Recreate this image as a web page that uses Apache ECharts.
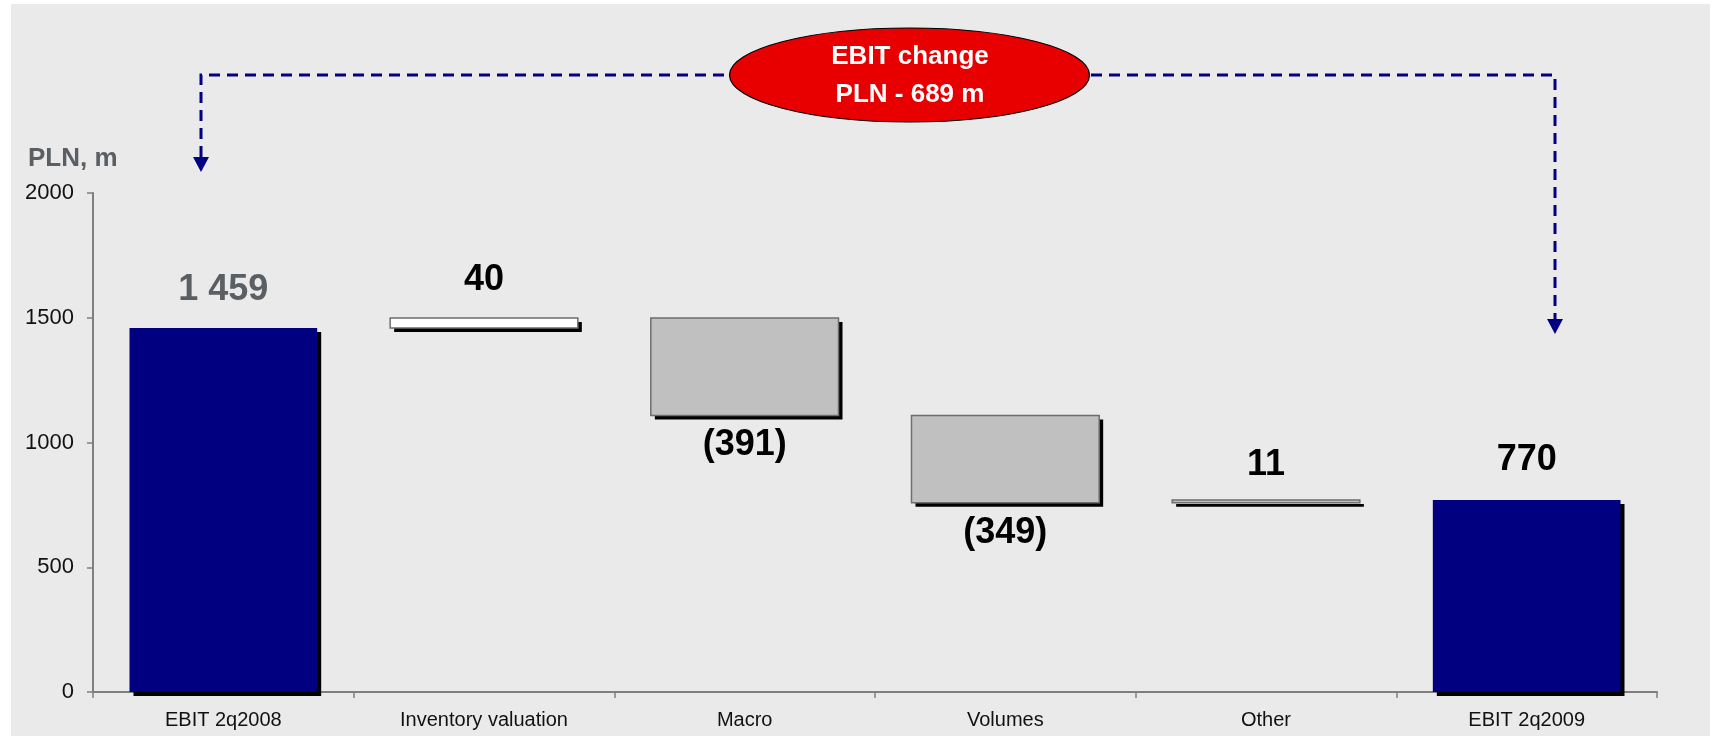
<!DOCTYPE html>
<html>
<head>
<meta charset="utf-8">
<script src="https://cdn.jsdelivr.net/npm/echarts@6/dist/echarts.min.js"></script>
<style>
  html, body { margin: 0; padding: 0; background: #fff; }
  #panel { position: absolute; left: 11px; top: 4px; width: 1699px; height: 732px; background: #eaeaea; }
  #chart { position: absolute; left: 0; top: 0; width: 1717px; height: 737px; }
</style>
</head>
<body>
<div id="panel"></div>
<div id="chart"></div>
<script>
// data
const categories = ['EBIT 2q2008', 'Inventory valuation', 'Macro', 'Volumes', 'Other', 'EBIT 2q2009'];
const changes = [1459, 40, -391, -349, 11, 770];
const isTotal = [true, false, false, false, false, true];
const yMin = 0, yMax = 2000, yStep = 500;

// styles per bar
const barFills = ['#000080', '#ffffff', '#c0c0c0', '#c0c0c0', '#c0c0c0', '#000080'];
const labelDist = [20, 20, 12, 12, 17, 22];
const FONT = '"Liberation Sans", Arial, sans-serif';

// waterfall: [index, low, high, change]
let running = 0;
const wfData = changes.map((v, i) => {
  let lo, hi;
  if (isTotal[i]) {
    lo = 0; hi = v; running = v;
  } else {
    lo = Math.min(running, running + v);
    hi = Math.max(running, running + v);
    running += v;
  }
  return [i, lo, hi, v];
});

function fmt(v) {
  if (v < 0) return '(' + Math.abs(v) + ')';
  return String(v).replace(/\B(?=(\d{3})+(?!\d))/g, ' ');
}

function renderBar(params, api) {
  const i = api.value(0);
  const top = api.coord([i, api.value(2)]);
  const bot = api.coord([i, api.value(1)]);
  const w = api.size([1, 0])[0] * 0.72;
  const x = top[0] - w / 2;
  const h = Math.max(bot[1] - top[1], 1);
  const v = api.value(3);
  const total = isTotal[i];
  const neg = v < 0;
  return {
    type: 'group',
    children: [
      // hard drop shadow
      {
        type: 'rect',
        shape: { x: x + 4, y: top[1] + 4, width: w, height: h },
        style: { fill: '#000' }
      },
      {
        type: 'rect',
        shape: { x: x, y: top[1], width: w, height: h },
        style: {
          fill: barFills[i],
          stroke: total ? null : '#6e6e6e',
          lineWidth: total ? 0 : 1.5
        }
      },
      {
        type: 'text',
        x: top[0],
        y: neg ? bot[1] + labelDist[i] : top[1] - labelDist[i],
        style: {
          text: fmt(v),
          align: 'center',
          verticalAlign: neg ? 'top' : 'bottom',
          font: 'bold 36px ' + FONT,
          fill: i === 0 ? '#5a5f64' : '#000'
        }
      }
    ]
  };
}

const chart = echarts.init(document.getElementById('chart'));

const option = {
  backgroundColor: 'transparent',
  animation: false,
  grid: { left: 93, right: 60, top: 193, bottom: 45 },
  xAxis: {
    type: 'category',
    data: categories,
    axisLine: { lineStyle: { color: '#7f7f7f', width: 2 } },
    axisTick: { show: true, length: 6, lineStyle: { color: '#7f7f7f', width: 1.5 } },
    axisLabel: { color: '#111', fontSize: 20, fontFamily: FONT, margin: 18 }
  },
  yAxis: {
    type: 'value',
    min: yMin,
    max: yMax,
    interval: yStep,
    splitLine: { show: false },
    axisLine: { show: true, lineStyle: { color: '#7f7f7f', width: 2 } },
    axisTick: { show: true, length: 6, lineStyle: { color: '#7f7f7f', width: 1.5 } },
    axisLabel: { color: '#111', fontSize: 22, fontFamily: FONT, margin: 19, formatter: v => String(v) }
  },
  series: [
    {
      type: 'custom',
      renderItem: renderBar,
      encode: { x: 0, y: [1, 2] },
      data: wfData,
      silent: true
    }
  ],
  graphic: [
    {
      type: 'text',
      left: 28,
      top: 146,
      style: { text: 'PLN, m', fill: '#5a5f64', font: 'bold 26px ' + FONT }
    },
    // dashed connector
    {
      type: 'polyline',
      shape: { points: [[201, 157], [201, 75], [1555, 75], [1555, 319]] },
      style: { stroke: '#000080', lineWidth: 3, lineDash: [11, 7], fill: null }
    },
    {
      type: 'polygon',
      shape: { points: [[193, 157], [209, 157], [201, 172]] },
      style: { fill: '#000080' }
    },
    {
      type: 'polygon',
      shape: { points: [[1547, 319], [1563, 319], [1555, 334]] },
      style: { fill: '#000080' }
    },
    {
      type: 'ellipse',
      shape: { cx: 909.5, cy: 75, rx: 180, ry: 47 },
      style: { fill: '#e80000', stroke: '#000', lineWidth: 1.2 },
      z: 10
    },
    {
      type: 'text',
      x: 910,
      y: 57,
      z: 11,
      style: { text: 'EBIT change', fill: '#fff', font: 'bold 26px ' + FONT, align: 'center', verticalAlign: 'middle' }
    },
    {
      type: 'text',
      x: 910,
      y: 95,
      z: 11,
      style: { text: 'PLN - 689 m', fill: '#fff', font: 'bold 26px ' + FONT, align: 'center', verticalAlign: 'middle' }
    }
  ]
};

chart.setOption(option);
</script>
</body>
</html>
